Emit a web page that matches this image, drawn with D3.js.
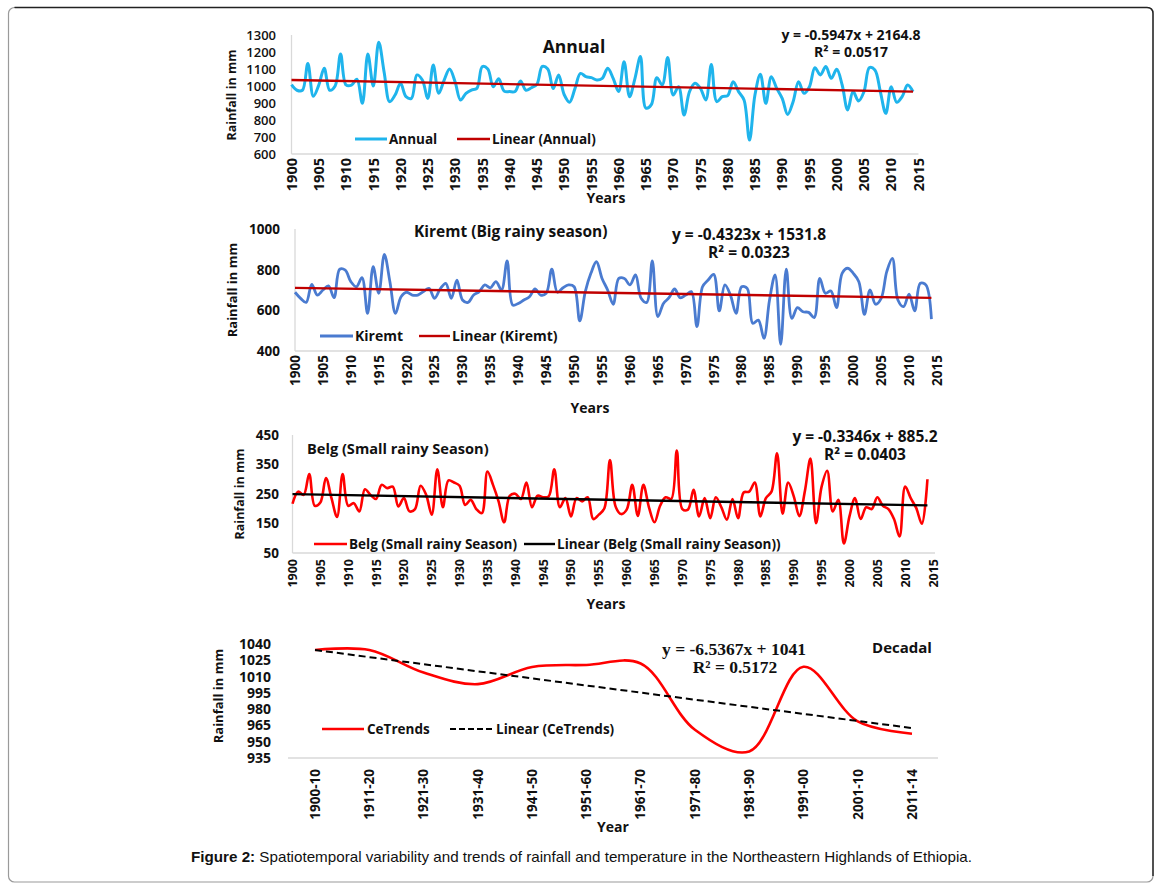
<!DOCTYPE html>
<html>
<head>
<meta charset="utf-8">
<script src="https://cdn.jsdelivr.net/npm/d3@7"></script>
<style>
  html, body { margin: 0; padding: 0; background: #fff; }
  svg { display: block; }
  text { font-family: "Open Sans", "DejaVu Sans", sans-serif; fill: #111; }
</style>
</head>
<body>
<svg id="chart" width="1163" height="891"></svg>
<script>
// ---------------- DATA ----------------
const years = d3.range(1900, 2015); // 1900 ... 2014
const yearTickLabels = ["1900","1905","1910","1915","1920","1925","1930","1935","1940","1945","1950","1955","1960","1965","1970","1975","1980","1985","1990","1995","2000","2005","2010","2015"];

const annual = [
  1008, 975, 975, 1133, 940, 1005, 1104, 975, 1000, 1188,
  1006, 1005, 1040, 898, 1188, 1000, 1257, 1080, 908, 947,
  1016, 937, 927, 1065, 1035, 927, 1123, 957, 1035, 1100,
  1025, 917, 957, 976, 986, 1114, 1100, 996, 1042, 970,
  967, 968, 1030, 975, 990, 1010, 1115, 1100, 985, 1065,
  950, 905, 986, 1074, 1055, 1049, 1035, 1045, 1104, 1045,
  967, 1143, 937, 1045, 1173, 870, 890, 1049, 1006, 1167,
  947, 996, 829, 967, 1016, 986, 918, 1127, 908, 937,
  943, 1025, 967, 918, 682, 947, 1069, 898, 1055, 986,
  927, 833, 908, 1025, 957, 996, 1108, 1065, 1114, 1045,
  1098, 1006, 859, 967, 912, 967, 1108, 1094, 967, 839,
  996, 904, 937, 1006, 967
];
const annualTicks = [600, 700, 800, 900, 1000, 1100, 1200, 1300];
const annualSlope = -0.5947, annualIntercept = 2164.8;

const kiremt = [
  689, 659, 639, 728, 675, 700, 720, 662, 802, 798,
  741, 716, 761, 585, 815, 684, 875, 741, 585, 667,
  689, 675, 675, 692, 708, 659, 705, 733, 659, 749,
  651, 639, 675, 692, 725, 711, 741, 700, 843, 626,
  634, 651, 667, 705, 675, 684, 803, 689, 711, 725,
  716, 548, 692, 782, 839, 757, 700, 630, 757, 757,
  725, 774, 659, 639, 843, 569, 634, 662, 705, 662,
  675, 692, 520, 716, 749, 777, 597, 725, 675, 585,
  716, 708, 536, 552, 462, 651, 774, 433, 803, 561,
  613, 593, 590, 564, 757, 684, 695, 613, 782, 807,
  782, 741, 580, 700, 630, 659, 790, 856, 651, 618,
  679, 597, 733, 725, 557
];
const kiremtTicks = [400, 600, 800, 1000];
const kiremtSlope = -0.4323, kiremtIntercept = 1531.8;

const belg = [
  217, 258, 247, 318, 210, 221, 304, 236, 172, 318,
  210, 219, 191, 266, 247, 233, 281, 270, 275, 208,
  236, 191, 199, 278, 247, 180, 334, 205, 296, 289,
  278, 213, 230, 199, 185, 326, 281, 225, 154, 244,
  251, 233, 289, 205, 244, 239, 242, 334, 205, 236,
  174, 236, 225, 239, 165, 180, 202, 365, 208, 182,
  197, 281, 176, 281, 205, 154, 210, 239, 233, 397,
  199, 197, 264, 174, 236, 168, 239, 205, 163, 233,
  168, 255, 258, 289, 174, 236, 258, 388, 183, 289,
  242, 175, 260, 370, 151, 275, 329, 191, 230, 82,
  174, 236, 165, 205, 199, 239, 210, 199, 165, 106,
  275, 236, 202, 149, 300
];
const belgTicks = [50, 150, 250, 350, 450];
const belgSlope = -0.3346, belgIntercept = 885.2;

const decades = ["1900-10","1911-20","1921-30","1931-40","1941-50","1951-60","1961-70","1971-80","1981-90","1991-00","2001-10","2011-14"];
const decadal = [1034.5, 1034.5, 1013.7, 1003, 1018.8, 1020.7, 1022, 961, 941, 1019, 968.7, 957.4];
const decadalTicks = [935, 950, 965, 980, 995, 1010, 1025, 1040];
const decadalSlope = -6.5367, decadalIntercept = 1041;

// ---------------- DRAW ----------------
const svg = d3.select("#chart");
const AXIS = "#d9d9d9";

// outer frame
svg.append("rect").attr("x", 8.5).attr("y", 7.5).attr("width", 1144.5).attr("height", 874.5)
  .attr("rx", 6).attr("fill", "none").attr("stroke", "#9a9a9a").attr("stroke-width", 1.2);
svg.append("path").attr("d", "M14.5,7.5 H1147 Q1153,7.5 1153,13.5 V876")
  .attr("fill", "none").attr("stroke", "#222").attr("stroke-width", 1.4);

function txt(x, y, s, o = {}) {
  const t = svg.append("text").attr("x", x).attr("y", y)
    .attr("font-size", o.size || 13)
    .attr("font-weight", o.weight || "bold")
    .attr("text-anchor", o.anchor || "start")
    .text(s);
  if (o.family) t.style("font-family", o.family);
  return t;
}

function yearPanel(cfg) {
  const x = d3.scaleLinear().domain([1900, 2015]).range([cfg.x0, cfg.x1]);
  const y = d3.scaleLinear().domain(cfg.yDomain).range([cfg.yBottom, cfg.yTop]);
  const g = svg.append("g");
  g.append("line").attr("x1", cfg.x0).attr("x2", cfg.x0).attr("y1", cfg.yTop).attr("y2", cfg.yBottom)
    .attr("stroke", AXIS).attr("stroke-width", 1.3);
  g.append("line").attr("x1", cfg.x0).attr("x2", cfg.axisEnd).attr("y1", cfg.yBottom).attr("y2", cfg.yBottom)
    .attr("stroke", AXIS).attr("stroke-width", 1.3);
  cfg.ticks.forEach(v => {
    txt(cfg.yLabelX, y(v), v, { size: cfg.ySize, anchor: "end", weight: cfg.yWeight || "bold" }).attr("dy", "0.36em");
  });
  yearTickLabels.forEach(l => {
    const xx = x(+l), yy = cfg.yBottom + cfg.xLabelGap;
    txt(xx, yy, l, { size: cfg.xSize, anchor: "end" }).attr("dy", "0.36em")
      .attr("transform", `rotate(-90,${xx},${yy})`);
  });
  const tx = cfg.yTitleX, ty = cfg.yTitleY;
  txt(tx, ty, "Rainfall in mm", { size: cfg.yTitleSize, anchor: "middle" })
    .attr("transform", `rotate(-90,${tx},${ty})`);
  txt(cfg.xTitleX, cfg.xTitleY, "Years", { size: cfg.xTitleSize, anchor: "middle" });
  const line = d3.line().x((d, i) => x(years[i])).y(d => y(d)).curve(d3.curveCatmullRom.alpha(0.5));
  g.append("path").datum(cfg.values).attr("d", line).attr("fill", "none")
    .attr("stroke", cfg.color).attr("stroke-width", cfg.width).attr("stroke-linejoin", "round");
  const tYears = [years[0], years[years.length - 1]];
  g.append("line")
    .attr("x1", x(tYears[0])).attr("y1", y(cfg.slope * tYears[0] + cfg.intercept))
    .attr("x2", x(tYears[1])).attr("y2", y(cfg.slope * tYears[1] + cfg.intercept))
    .attr("stroke", cfg.trendColor).attr("stroke-width", 2.4);
  const L = cfg.legend;
  g.append("line").attr("x1", L.a0).attr("x2", L.a1).attr("y1", L.y).attr("y2", L.y)
    .attr("stroke", cfg.color).attr("stroke-width", cfg.width);
  txt(L.a1 + 2, L.y, L.t1, { size: L.size }).attr("dy", "0.36em");
  g.append("line").attr("x1", L.b0).attr("x2", L.b1).attr("y1", L.y).attr("y2", L.y)
    .attr("stroke", cfg.trendColor).attr("stroke-width", 2.4);
  txt(L.b1 + 2, L.y, L.t2, { size: L.size }).attr("dy", "0.36em");
  txt(cfg.title.x, cfg.title.y, cfg.title.text, { size: cfg.title.size, anchor: cfg.title.anchor || "start" });
  txt(cfg.eq.x, cfg.eq.y1, cfg.eq.l1, { size: cfg.eq.size, anchor: "middle" });
  txt(cfg.eq.x, cfg.eq.y2, cfg.eq.l2, { size: cfg.eq.size, anchor: "middle" });
}

yearPanel({
  x0: 291.5, x1: 918.5, axisEnd: 918.5, yTop: 35, yBottom: 154, yDomain: [600, 1300],
  ticks: annualTicks, yLabelX: 276, ySize: 13, yWeight: "600",
  xLabelGap: 4, xSize: 14.5,
  yTitleX: 236, yTitleY: 95, yTitleSize: 12.5,
  xTitleX: 606, xTitleY: 203, xTitleSize: 14,
  values: annual, color: "#1fb4ec", width: 3, trendColor: "#c00000",
  slope: annualSlope, intercept: annualIntercept,
  legend: { y: 139, a0: 355, a1: 387, b0: 457, b1: 490, t1: "Annual", t2: "Linear (Annual)", size: 13.5 },
  title: { x: 574, y: 53, text: "Annual", size: 17.5, anchor: "middle" },
  eq: { x: 851, y1: 40, y2: 57, l1: "y = -0.5947x + 2164.8", l2: "R² = 0.0517", size: 14 }
});

yearPanel({
  x0: 295, x1: 937, axisEnd: 940, yTop: 229, yBottom: 351, yDomain: [400, 1000],
  ticks: kiremtTicks, yLabelX: 280, ySize: 13.5,
  xLabelGap: 4, xSize: 13.5,
  yTitleX: 237, yTitleY: 290, yTitleSize: 13,
  xTitleX: 590, xTitleY: 413, xTitleSize: 14,
  values: kiremt, color: "#4a7bd0", width: 2.8, trendColor: "#c00000",
  slope: kiremtSlope, intercept: kiremtIntercept,
  legend: { y: 336, a0: 320, a1: 353, b0: 419, b1: 450, t1: "Kiremt", t2: "Linear (Kiremt)", size: 14 },
  title: { x: 414, y: 237, text: "Kiremt (Big rainy season)", size: 15.5 },
  eq: { x: 749, y1: 240, y2: 258, l1: "y = -0.4323x + 1531.8", l2: "R² = 0.0323", size: 15.5 }
});

yearPanel({
  x0: 292.5, x1: 933, axisEnd: 935, yTop: 435, yBottom: 553, yDomain: [50, 450],
  ticks: belgTicks, yLabelX: 279, ySize: 13.5,
  xLabelGap: 6, xSize: 12.5,
  yTitleX: 244, yTitleY: 494, yTitleSize: 12.5,
  xTitleX: 606, xTitleY: 609, xTitleSize: 14,
  values: belg, color: "#ff0000", width: 2.6, trendColor: "#000000",
  slope: belgSlope, intercept: belgIntercept,
  legend: { y: 544, a0: 314, a1: 347, b0: 524, b1: 555, t1: "Belg (Small rainy Season)", t2: "Linear (Belg (Small rainy Season))", size: 13.5 },
  title: { x: 307, y: 454, text: "Belg (Small rainy Season)", size: 14.6 },
  eq: { x: 865, y1: 442, y2: 460, l1: "y = -0.3346x + 885.2", l2: "R² = 0.0403", size: 15.5 }
});

// ---- Decadal panel ----
(function () {
  const x = d3.scalePoint().domain(decades).range([315, 912]);
  const y = d3.scaleLinear().domain([935, 1040]).range([758, 644]);
  const g = svg.append("g");
  g.append("line").attr("x1", 288).attr("x2", 938).attr("y1", 758).attr("y2", 758)
    .attr("stroke", AXIS).attr("stroke-width", 1.3);
  decadalTicks.forEach(v => {
    txt(271, y(v), v, { size: 14 }).attr("text-anchor", "end").attr("dy", "0.36em");
  });
  decades.forEach(l => {
    const xx = x(l), yy = 769;
    txt(xx, yy, l, { size: 13.5, anchor: "end" }).attr("dy", "0.36em")
      .attr("transform", `rotate(-90,${xx},${yy})`);
  });
  txt(223, 696, "Rainfall in mm", { size: 13, anchor: "middle" }).attr("transform", "rotate(-90,223,696)");
  txt(613, 832, "Year", { size: 14, anchor: "middle" });

  const line = d3.line().x((d, i) => x(decades[i])).y(d => y(d)).curve(d3.curveCatmullRom.alpha(0.5));
  g.append("path").datum(decadal).attr("d", line).attr("fill", "none")
    .attr("stroke", "#ff0000").attr("stroke-width", 2.6);
  const idx = [1, decades.length];
  g.append("line")
    .attr("x1", x(decades[0])).attr("y1", y(decadalSlope * idx[0] + decadalIntercept))
    .attr("x2", x(decades[decades.length - 1])).attr("y2", y(decadalSlope * idx[1] + decadalIntercept))
    .attr("stroke", "#000").attr("stroke-width", 2).attr("stroke-dasharray", "7,4");
  g.append("line").attr("x1", 322).attr("x2", 364).attr("y1", 729).attr("y2", 729)
    .attr("stroke", "#ff0000").attr("stroke-width", 2.6);
  txt(367, 729, "CeTrends", { size: 13.5 }).attr("dy", "0.36em");
  g.append("line").attr("x1", 450).attr("x2", 494).attr("y1", 729).attr("y2", 729)
    .attr("stroke", "#000").attr("stroke-width", 2).attr("stroke-dasharray", "6,3");
  txt(496, 729, "Linear (CeTrends)", { size: 13.5 }).attr("dy", "0.36em");
  txt(902, 653, "Decadal", { size: 15, anchor: "middle" });
  const serif = '"Liberation Serif", "DejaVu Serif", serif';
  txt(734, 655, "y = -6.5367x + 1041", { size: 17.5, anchor: "middle", family: serif });
  txt(735, 673, "R² = 0.5172", { size: 17.5, anchor: "middle", family: serif });
})();

// caption
const cap = svg.append("text").attr("x", 191).attr("y", 862)
  .style("font-family", '"Liberation Sans", Arial, sans-serif').attr("font-size", 14.5)
  .attr("textLength", 781).attr("lengthAdjust", "spacingAndGlyphs");
cap.append("tspan").attr("font-weight", "bold").text("Figure 2:");
cap.append("tspan").text(" Spatiotemporal variability and trends of rainfall and temperature in the Northeastern Highlands of Ethiopia.");
</script>
</body>
</html>
